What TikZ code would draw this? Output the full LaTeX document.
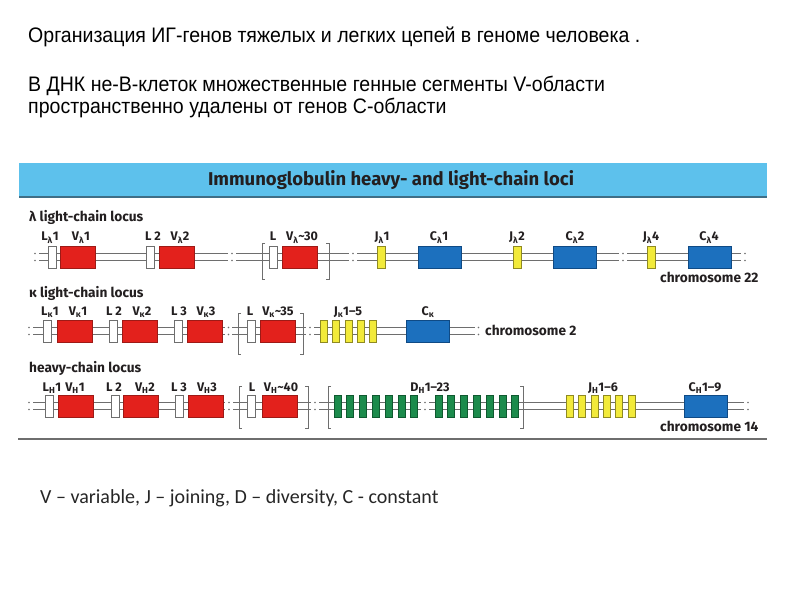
\documentclass[tikz,border=0pt]{standalone}
\usepackage{fontspec}
\setmainfont{Liberation Sans}
\newfontfamily\rufont[FakeStretch=0.93]{Liberation Sans}
\newfontfamily\figfont{Fira Sans}
\newfontfamily\calfont{Carlito}
\definecolor{banner}{HTML}{5DC1EC}
\definecolor{bannerline}{HTML}{3F6E86}
\definecolor{vred}{HTML}{E3211C}
\definecolor{vredd}{HTML}{9E1A16}
\definecolor{cblue}{HTML}{1C70BE}
\definecolor{cblued}{HTML}{0F4A85}
\definecolor{jyel}{HTML}{F2EA3A}
\definecolor{jyeld}{HTML}{8F8A22}
\definecolor{dgreen}{HTML}{1C8B4C}
\definecolor{dgreend}{HTML}{0F5A30}
\definecolor{dnac}{HTML}{6E6E6E}
\definecolor{txt}{HTML}{231F20}
\tikzset{
  gene/.style={minimum height=22, inner sep=0, line width=0.8},
  lbox/.style={gene, draw=dnac, fill=white, minimum width=8},
  vbox/.style={gene, draw=vredd, fill=vred, minimum width=35},
  cbox/.style={gene, draw=cblued, fill=cblue, minimum width=43},
  jbox/.style={gene, draw=jyeld, fill=jyel, minimum width=8},
  jsm/.style={gene, draw=jyeld, fill=jyel, minimum width=7},
  dbox/.style={gene, draw=dgreend, fill=dgreen, minimum width=7},
  dna/.style={draw=dnac, line width=0.8},
  brk/.style={draw=dnac, line width=0.8},
  lbl/.style={font=\figfont\bfseries\fontsize{12.5}{14}\selectfont, text=txt, inner sep=0, anchor=base},
  sec/.style={font=\figfont\bfseries\fontsize{13.7}{16}\selectfont, text=txt, inner sep=0, anchor=base west},
  ru/.style={font=\rufont\fontsize{21}{24}\selectfont, text=black, inner sep=0, anchor=base west},
}
\newcommand\dnaseg[3]{\draw[dna] (#1,#3-3.5) -- (#2,#3-3.5) (#1,#3+3.5) -- (#2,#3+3.5);}
\newcommand\gapdots[2]{\fill[dnac] (#1,#2-3.5) circle[radius=0.9] (#1,#2+3.5) circle[radius=0.9];}
\newcommand\openbr[3]{\draw[brk] (#1+3,#2) -- (#1,#2) -- (#1,#3) -- (#1+3,#3);}
\newcommand\closebr[3]{\draw[brk] (#1-3,#2) -- (#1,#2) -- (#1,#3) -- (#1-3,#3);}
\newcommand\gsub[1]{\textsubscript{#1}}
\begin{document}
\begin{tikzpicture}[x=1pt,y=-1pt]
\useasboundingbox (0,0) rectangle (800,600);
\fill[white] (0,0) rectangle (800,600);
% Russian header
\node[ru] (t1) at (28,42.5) {Организация ИГ-генов тяжелых и легких цепей в геноме человека .};
\node[ru] (t2) at (28,91.5) {В ДНК не-В-клеток множественные генные сегменты V-области};
\node[ru] (t3) at (28,113.5) {пространственно удалены от генов С-области};
% banner
\fill[banner] (19,163) rectangle (767,197);
\draw[bannerline, line width=1.6] (19,197) -- (767,197);
\node[font=\figfont\bfseries\fontsize{18.5}{21}\selectfont, text=txt, inner sep=0] (ban) at (391,180) {Immunoglobulin heavy- and light-chain loci};
% ---------------- lambda
\node[sec] (seclam) at (29,221.5) {λ light-chain locus};
\dnaseg{39}{228}{257}\dnaseg{236}{349}{257}\dnaseg{357}{619}{257}\dnaseg{627}{741}{257}
\gapdots{35}{257}\gapdots{232}{257}\gapdots{353}{257}\gapdots{623}{257}\gapdots{745}{257}
\openbr{262}{243}{279}\closebr{329}{243}{279}
\node[lbox] (la1) at (52,257) {};
\node[vbox] (va1) at (77.5,257) {};
\node[lbox] (la2) at (150.5,257) {};
\node[vbox] (va2) at (176.5,257) {};
\node[lbox] (la3) at (273.5,257) {};
\node[vbox] (va3) at (299.5,257) {};
\node[jbox] (ja1) at (381.5,257) {};
\node[cbox] (ca1) at (439.5,257) {};
\node[jbox] (ja2) at (517.5,257) {};
\node[cbox] (ca2) at (575,257) {};
\node[jbox] (ja4) at (651,257) {};
\node[cbox] (ca4) at (709.5,257) {};
\node[lbl] (tla1) at (50,240.5) {L\gsub{λ}1};
\node[lbl] (tva1) at (81,240.5) {V\gsub{λ}1};
\node[lbl] (tla2) at (153,240.5) {L 2};
\node[lbl] (tva2) at (180,240.5) {V\gsub{λ}2};
\node[lbl] (tla3) at (273,240.5) {L};
\node[lbl] (tva3) at (302,240.5) {V\gsub{λ}\textasciitilde30};
\node[lbl] (tja1) at (382,240.5) {J\gsub{λ}1};
\node[lbl] (tca1) at (439,240.5) {C\gsub{λ}1};
\node[lbl] (tja2) at (517,240.5) {J\gsub{λ}2};
\node[lbl] (tca2) at (575,240.5) {C\gsub{λ}2};
\node[lbl] (tja4) at (651,240.5) {J\gsub{λ}4};
\node[lbl] (tca4) at (709,240.5) {C\gsub{λ}4};
\node[sec] (chr22) at (660,282) {chromosome 22};
% ---------------- kappa
\node[sec] (seckap) at (29,297.5) {κ light-chain locus};
\dnaseg{33}{225}{331}\dnaseg{232}{306}{331}\dnaseg{314}{475}{331}
\gapdots{29}{331}\gapdots{228.5}{331}\gapdots{310}{331}\gapdots{478.5}{331}
\openbr{238}{313}{354}\closebr{303}{313}{354}
\node[lbox] (lk1) at (47.5,331) {};
\node[vbox] (vk1) at (74.5,331) {};
\node[lbox] (lk2) at (113.5,331) {};
\node[vbox] (vk2) at (139.5,331) {};
\node[lbox] (lk3) at (178.5,331) {};
\node[vbox] (vk3) at (204.5,331) {};
\node[lbox] (lk4) at (251,331) {};
\node[vbox] (vk4) at (278,331) {};
\foreach \i in {0,...,4} {\node[jsm] (jk\i) at (324+12.3*\i,331) {};}
\node[cbox] (ck) at (428,331) {};
\node[lbl] (tlk1) at (50,315.5) {L\gsub{κ}1};
\node[lbl] (tvk1) at (78,315.5) {V\gsub{κ}1};
\node[lbl] (tlk2) at (114,315.5) {L 2};
\node[lbl] (tvk2) at (142,315.5) {V\gsub{κ}2};
\node[lbl] (tlk3) at (179,315.5) {L 3};
\node[lbl] (tvk3) at (206,315.5) {V\gsub{κ}3};
\node[lbl] (tlk4) at (250,315.5) {L};
\node[lbl] (tvk4) at (278,315.5) {V\gsub{κ}\textasciitilde35};
\node[lbl] (tjk) at (348,315.5) {J\gsub{κ}1–5};
\node[lbl] (tck) at (428,315.5) {C\gsub{κ}};
\node[sec] (chr2) at (485,335.5) {chromosome 2};
% ---------------- heavy
\node[sec] (sechv) at (29,372.5) {heavy-chain locus};
\dnaseg{33}{225}{406}\dnaseg{233}{311}{406}\dnaseg{319}{421}{406}\dnaseg{429}{744}{406}
\gapdots{29}{406}\gapdots{229}{406}\gapdots{315}{406}\gapdots{425}{406}\gapdots{748}{406}
\openbr{239}{386}{428}\closebr{308}{386}{428}\openbr{328}{386}{428}\closebr{523}{386}{428}
\node[lbox] (lh1) at (49,406) {};
\node[vbox] (vh1) at (75.5,406) {};
\node[lbox] (lh2) at (115,406) {};
\node[vbox] (vh2) at (141,406) {};
\node[lbox] (lh3) at (179,406) {};
\node[vbox] (vh3) at (206,406) {};
\node[lbox] (lh4) at (251,406) {};
\node[vbox] (vh4) at (279.5,406) {};
\foreach \i in {0,...,6} {\node[dbox] (da\i) at (337.5+12.8*\i,406) {};}
\foreach \i in {0,...,6} {\node[dbox] (db\i) at (438.5+12.8*\i,406) {};}
\foreach \i in {0,...,5} {\node[jsm] (jh\i) at (570+12.3*\i,406) {};}
\node[cbox] (ch) at (705.5,406) {};
\node[lbl] (tlh1) at (52,391.5) {L\gsub{H}1};
\node[lbl] (tvh1) at (75,391.5) {V\gsub{H}1};
\node[lbl] (tlh2) at (114,391.5) {L 2};
\node[lbl] (tvh2) at (145,391.5) {V\gsub{H}2};
\node[lbl] (tlh3) at (179,391.5) {L 3};
\node[lbl] (tvh3) at (207,391.5) {V\gsub{H}3};
\node[lbl] (tlh4) at (252,391.5) {L};
\node[lbl] (tvh4) at (281,391.5) {V\gsub{H}\textasciitilde40};
\node[lbl] (tdh) at (430,391.5) {D\gsub{H}1–23};
\node[lbl] (tjh) at (603,391.5) {J\gsub{H}1–6};
\node[lbl] (tch) at (705,391.5) {C\gsub{H}1–9};
\node[sec] (chr14) at (660,431.5) {chromosome 14};
\draw[dnac, line width=1.2] (18,439) -- (767,439);
% legend
\node[font=\calfont\fontsize{20}{24}\selectfont, text=black!85, inner sep=0, anchor=base west] (leg) at (40,503) {V – variable, J – joining, D – diversity, C - constant};
\end{tikzpicture}
\end{document}
